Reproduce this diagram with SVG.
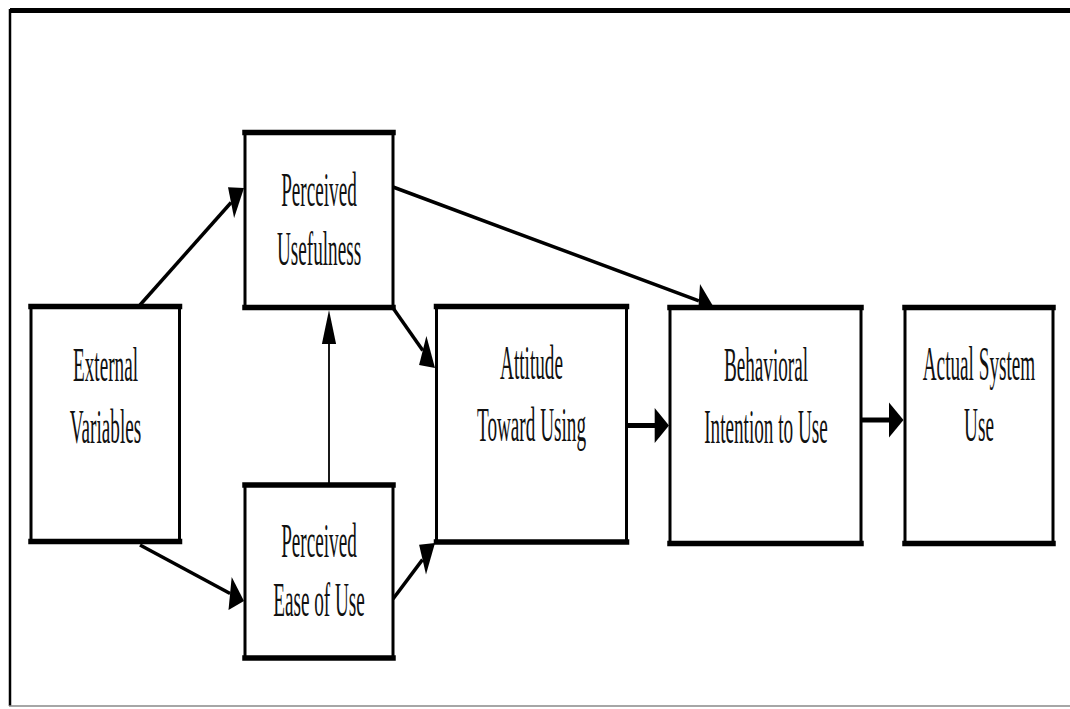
<svg xmlns="http://www.w3.org/2000/svg" width="1070" height="709" viewBox="0 0 1070 709">
<style>
.box{fill:#fff;stroke:#000;stroke-width:3}
.edge{stroke:#000;stroke-width:5.5;stroke-linecap:square}
.lbl{font-family:"Liberation Serif","Times New Roman",serif;font-size:48px;fill:#111;text-anchor:middle}
.ln{stroke:#000;fill:none}
.ah{fill:#000;stroke:none}
</style>
<rect width="1070" height="709" fill="#fff"/>
<g id="frame">
<line x1="10" y1="10.5" x2="1070" y2="10.5" stroke="#000" stroke-width="5"/>
<line x1="10" y1="9" x2="10" y2="706" stroke="#000" stroke-width="2.5"/>
<line x1="9" y1="706" x2="1070" y2="706" stroke="#888" stroke-width="1.5"/>
</g>
<g id="connectors">
<line class="ln" x1="140" y1="305" x2="231.1" y2="202.5" stroke-width="3.5"/>
<polygon class="ah" points="244,188 234.1,217.9 228,187.2"/>
<line class="ln" x1="140" y1="545" x2="230.1" y2="593.5" stroke-width="3.5"/>
<polygon class="ah" points="244,601 228.5,610.1 231.7,576.9"/>
<line class="ln" x1="329" y1="485" x2="329" y2="344" stroke-width="1.8"/>
<polygon class="ah" points="329,310 321.9,344 336.1,344"/>
<line class="ln" x1="393" y1="308" x2="422.8" y2="350.5" stroke-width="3.5"/>
<polygon class="ah" points="435,368 419.1,365.1 426.4,335.9"/>
<line class="ln" x1="393" y1="599" x2="422.5" y2="559.6" stroke-width="3.5"/>
<polygon class="ah" points="435,543 426,574.4 419.1,544.8"/>
<line class="ln" x1="393" y1="187" x2="698.9" y2="300.8" stroke-width="3.5"/>
<polygon class="ah" points="713,306 697.8,317.6 700,284"/>
<line class="ln" x1="626.5" y1="425.5" x2="655" y2="425.5" stroke-width="5"/>
<polygon class="ah" points="669,425.5 654.7,408 654.7,443"/>
<line class="ln" x1="861" y1="420" x2="889" y2="420" stroke-width="5"/>
<polygon class="ah" points="903.5,420 889,402.5 889,437.5"/>
</g>
<g id="ev">
<rect class="box" x="31" y="306.5" width="148.5" height="235"/>
<line class="edge" x1="31" y1="306.5" x2="179.5" y2="306.5"/>
<line class="edge" x1="31" y1="541.5" x2="179.5" y2="541.5"/>
<text class="lbl" transform="translate(105.5 381) scale(0.4 1)">External</text>
<text class="lbl" transform="translate(105.5 443) scale(0.4 1)">Variables</text>
</g>
<g id="pu">
<rect class="box" x="245" y="132.5" width="148" height="175"/>
<line class="edge" x1="245" y1="132.5" x2="393" y2="132.5"/>
<line class="edge" x1="245" y1="307.5" x2="393" y2="307.5"/>
<text class="lbl" transform="translate(319 206) scale(0.4 1)">Perceived</text>
<text class="lbl" transform="translate(319 265) scale(0.4 1)">Usefulness</text>
</g>
<g id="peou">
<rect class="box" x="245" y="485" width="148" height="173"/>
<line class="edge" x1="245" y1="485" x2="393" y2="485"/>
<line class="edge" x1="245" y1="658" x2="393" y2="658"/>
<text class="lbl" transform="translate(319 557) scale(0.4 1)">Perceived</text>
<text class="lbl" transform="translate(319 616) scale(0.4 1)">Ease of  Use</text>
</g>
<g id="att">
<rect class="box" x="436.5" y="306.5" width="190" height="235.5"/>
<line class="edge" x1="436.5" y1="306.5" x2="626.5" y2="306.5"/>
<line class="edge" x1="436.5" y1="542" x2="626.5" y2="542"/>
<text class="lbl" transform="translate(531.5 379) scale(0.4 1)">Attitude</text>
<text class="lbl" transform="translate(531.5 441) scale(0.4 1)">Toward Using</text>
</g>
<g id="bi">
<rect class="box" x="670" y="307.5" width="191" height="236"/>
<line class="edge" x1="670" y1="307.5" x2="861" y2="307.5"/>
<line class="edge" x1="670" y1="543.5" x2="861" y2="543.5"/>
<text class="lbl" transform="translate(766 381) scale(0.4 1)">Behavioral</text>
<text class="lbl" transform="translate(766 443) scale(0.4 1)">Intention to Use</text>
</g>
<g id="asu">
<rect class="box" x="905" y="307.5" width="148" height="236"/>
<line class="edge" x1="905" y1="307.5" x2="1053" y2="307.5"/>
<line class="edge" x1="905" y1="543.5" x2="1053" y2="543.5"/>
<text class="lbl" transform="translate(979 380) scale(0.4 1)">Actual System</text>
<text class="lbl" transform="translate(979 441) scale(0.4 1)">Use</text>
</g>
</svg>
